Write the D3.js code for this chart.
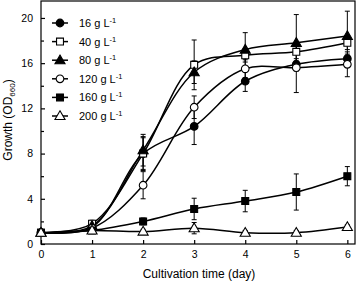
<!DOCTYPE html>
<html>
<head>
<meta charset="utf-8">
<script src="https://cdn.jsdelivr.net/npm/d3@7"></script>
<style>
  body { margin: 0; background: #fff; }
  text { font-family: "Liberation Sans", Arial, sans-serif; fill: #000; }
  .axis path, .axis line { stroke: #000; stroke-width: 1.2; }
</style>
</head>
<body>
<div id="chart"></div>
<script>
// Values
const days = [0, 1, 2, 3, 4, 5, 6];
const seriesLabels = ['16', '40', '80', '120', '160', '200'];
const growth16 = [1.0, 1.5, 8.0, 10.4, 14.4, 15.9, 16.4];
const growth40 = [1.0, 1.8, 8.0, 15.85, 16.7, 17.0, 17.8];
const growth80 = [1.0, 1.6, 8.3, 15.2, 17.2, 17.8, 18.4];
const growth120 = [1.0, 1.4, 5.2, 12.1, 15.5, 15.6, 15.9];
const growth160 = [1.0, 1.2, 2.0, 3.1, 3.8, 4.6, 6.0];
const growth200 = [1.0, 1.2, 1.1, 1.4, 1.0, 1.0, 1.5];
const err16 = [0, 0.2, 1.4, 1.6, 0.9, 0.5, 0.4];
const err40 = [0, 0.3, 1.5, 2.2, 0.6, 0.8, 0.6];
const err80 = [0, 0.3, 1.4, 1.0, 1.5, 2.5, 2.2];
const err120 = [0, 0.2, 1.2, 1.0, 0.8, 2.2, 1.1];
const err160 = [0, 0.1, 0.3, 0.95, 0.95, 1.6, 0.85];
const err200 = [0, 0.1, 0.2, 0.5, 0.2, 0.2, 0.2];
const yTicks = [0, 4, 8, 12, 16, 20];
const yMinorTicks = [2, 6, 10, 14, 18];

class GrowthChart {

    constructor(_config, _data) {
        this.config = {
            parentElement: _config.parentElement,
            containerWidth: 358,
            containerHeight: 283,
            margin: {top: 1, right: 3, bottom: 39, left: 41},
            legendX: 52,
            legendY: 23,
            legendStep: 18.6
        };
        this.data = _data;
        this.initVis();
    }

    initVis() {
        let vis = this;

        vis.width = vis.config.containerWidth - vis.config.margin.left - vis.config.margin.right;
        vis.height = vis.config.containerHeight - vis.config.margin.top - vis.config.margin.bottom;

        vis.xScale = d3.scaleLinear()
            .domain([0, 6.15])
            .range([0, vis.width]);

        vis.yScale = d3.scaleLinear()
            .domain([0, 21.5])
            .range([vis.height, 0]);

        vis.xAxis = d3.axisBottom(vis.xScale)
            .tickValues(days)
            .tickSize(-4)
            .tickPadding(7)
            .tickFormat(d3.format('d'));

        vis.yAxis = d3.axisLeft(vis.yScale)
            .tickValues(yTicks)
            .tickSize(-4)
            .tickPadding(8)
            .tickFormat(d3.format('d'));

        vis.yMinorAxis = d3.axisLeft(vis.yScale)
            .tickValues(yMinorTicks)
            .tickSize(-3)
            .tickFormat('');

        vis.svg = d3.select(vis.config.parentElement).append('svg')
            .attr('width', vis.config.containerWidth)
            .attr('height', vis.config.containerHeight);

        vis.chart = vis.svg.append('g')
            .attr('transform', `translate(${vis.config.margin.left},${vis.config.margin.top})`);

        // frame
        vis.chart.append('rect')
            .attr('width', vis.width)
            .attr('height', vis.height)
            .attr('fill', 'none')
            .attr('stroke', '#000')
            .attr('stroke-width', 1.2);

        vis.xAxisG = vis.chart.append('g')
            .attr('class', 'axis x-axis')
            .attr('transform', `translate(0,${vis.height})`);
        vis.yAxisG = vis.chart.append('g').attr('class', 'axis y-axis');
        vis.yMinorG = vis.chart.append('g').attr('class', 'axis y-minor');

        // axis titles
        vis.svg.append('text')
            .attr('x', 199)
            .attr('y', 278)
            .attr('text-anchor', 'middle')
            .style('font-size', '12px')
            .text('Cultivation time (day)');

        const yTitle = vis.svg.append('text')
            .attr('transform', 'translate(12,120) rotate(-90)')
            .attr('text-anchor', 'middle')
            .style('font-size', '12px');
        yTitle.append('tspan').text('Growth (OD');
        yTitle.append('tspan').attr('dy', 3).style('font-size', '8px').text('660');
        yTitle.append('tspan').attr('dy', -3).text(')');

        vis.symbolType = {circle: d3.symbolCircle, square: d3.symbolSquare, triangle: d3.symbolTriangle};

        vis.line = d3.line()
            .x(d => vis.xScale(d.day))
            .y(d => vis.yScale(d.value))
            .curve(d3.curveCatmullRom.alpha(0.5));

        vis.updateVis();
    }

    updateVis() {
        let vis = this;
        vis.points = vis.data.flatMap(s => s.values.map((v, i) => ({
            day: days[i], value: v, err: s.errors[i], series: s
        })));
        vis.renderVis();
    }

    markerPath(s) {
        const sizes = {circle: 46, square: 48, triangle: 44};
        return d3.symbol().type(this.symbolType[s.shape]).size(sizes[s.shape])();
    }

    renderVis() {
        let vis = this;

        // error bars
        const errs = vis.chart.append('g').selectAll('.err')
            .data(vis.points.filter(d => d.err > 0.15))
            .join('g')
            .attr('class', 'err')
            .attr('stroke', '#000')
            .attr('stroke-width', 1);
        errs.append('line')
            .attr('x1', d => vis.xScale(d.day))
            .attr('x2', d => vis.xScale(d.day))
            .attr('y1', d => vis.yScale(d.value - d.err))
            .attr('y2', d => vis.yScale(d.value + d.err));
        [-1, 1].forEach(sign => {
            errs.append('line')
                .attr('x1', d => vis.xScale(d.day) - 2.5)
                .attr('x2', d => vis.xScale(d.day) + 2.5)
                .attr('y1', d => vis.yScale(d.value + sign * d.err))
                .attr('y2', d => vis.yScale(d.value + sign * d.err));
        });

        // curves
        vis.chart.append('g').selectAll('.curve')
            .data(vis.data)
            .join('path')
            .attr('class', 'curve')
            .attr('fill', 'none')
            .attr('stroke', '#000')
            .attr('stroke-width', 1.5)
            .attr('d', s => vis.line(s.values.map((v, i) => ({day: days[i], value: v}))));

        // markers
        vis.chart.append('g').selectAll('.marker')
            .data(vis.points)
            .join('path')
            .attr('class', 'marker')
            .attr('d', d => vis.markerPath(d.series))
            .attr('transform', d => `translate(${vis.xScale(d.day)},${vis.yScale(d.value) + (d.series.shape === 'triangle' ? 0.6 : 0)})`)
            .attr('fill', d => d.series.filled ? '#000' : '#fff')
            .attr('stroke', '#000')
            .attr('stroke-width', 1.1);

        // legend
        const legend = vis.svg.append('g').selectAll('.legend')
            .data(vis.data)
            .join('g')
            .attr('class', 'legend')
            .attr('transform', (d, i) => `translate(${vis.config.legendX},${vis.config.legendY + i * vis.config.legendStep})`);
        legend.append('line')
            .attr('x1', 0).attr('x2', 16)
            .attr('stroke', '#000').attr('stroke-width', 1.5);
        legend.append('path')
            .attr('d', d => vis.markerPath(d))
            .attr('transform', d => `translate(8,${d.shape === 'triangle' ? 0.6 : 0})`)
            .attr('fill', d => d.filled ? '#000' : '#fff')
            .attr('stroke', '#000')
            .attr('stroke-width', 1.1);
        const lt = legend.append('text')
            .attr('x', 27)
            .attr('y', 4)
            .style('font-size', '11px');
        lt.append('tspan').text(d => `${d.label} g L`);
        lt.append('tspan').attr('dy', -4).style('font-size', '7.5px').text('-1');

        vis.xAxisG.call(vis.xAxis).call(g => g.select('.domain').remove());
        vis.yAxisG.call(vis.yAxis).call(g => g.select('.domain').remove());
        vis.yMinorG.call(vis.yMinorAxis).call(g => g.select('.domain').remove());
        vis.svg.selectAll('.axis text').style('font-size', '10.5px');
    }
}

const shapes = ['circle', 'square', 'triangle', 'circle', 'square', 'triangle'];
const filled = [true, false, true, false, true, false];
const allValues = [growth16, growth40, growth80, growth120, growth160, growth200];
const allErrors = [err16, err40, err80, err120, err160, err200];

const seriesData = seriesLabels.map((label, i) => ({
    label: label,
    shape: shapes[i],
    filled: filled[i],
    values: allValues[i],
    errors: allErrors[i]
}));

new GrowthChart({parentElement: '#chart'}, seriesData);
</script>
</body>
</html>
